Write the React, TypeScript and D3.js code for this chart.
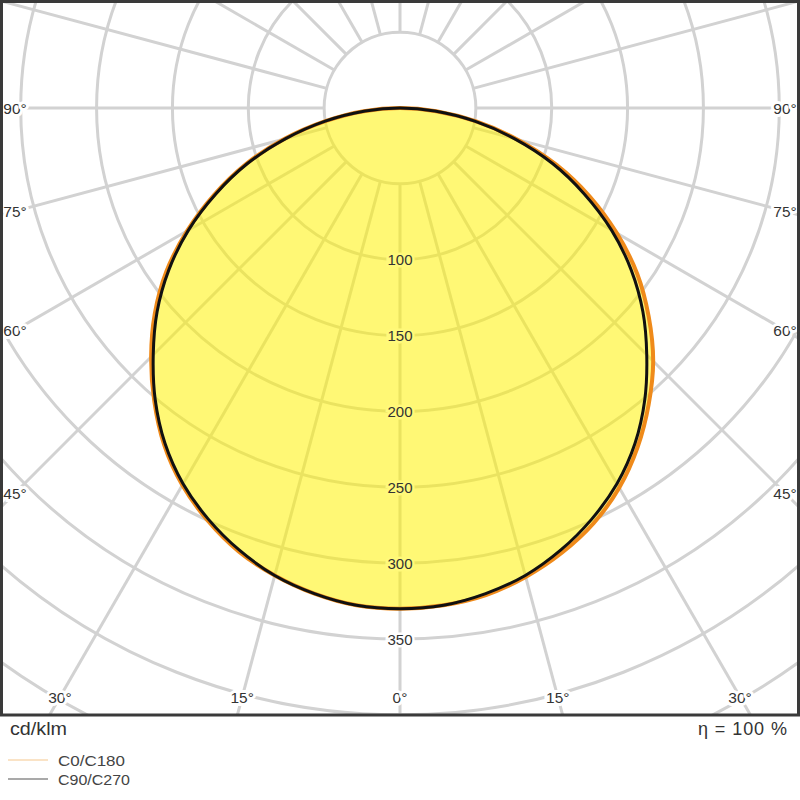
import React from "react";
import * as d3 from "d3";

// Polar angles (degrees from nadir)
const angles = [0, 5, 10, 15, 20, 25, 30, 35, 40, 45, 50, 55, 60, 65, 70, 75, 80, 85, 90];
// Luminous intensity cd/klm
const C0 = [330, 329, 326, 320, 312, 302, 289, 273, 255, 236, 214, 191, 165, 138, 110, 80, 51, 24, 0];
const C180 = [330, 329, 325, 319, 311, 300, 287, 271, 252, 232, 211, 188, 162, 135, 108, 79, 50, 24, 0];
const C90 = [330, 329, 325, 319, 310, 299, 286, 270, 251, 230, 209, 186, 161, 134, 107, 78, 50, 23, 0];
const C270 = [330, 329, 325, 319, 310, 299, 286, 270, 251, 230, 209, 186, 161, 134, 107, 78, 50, 23, 0];

const ringValues = [50, 100, 150, 200, 250, 300, 350, 400, 450, 500];
const ringLabels = [100, 150, 200, 250, 300, 350];
const angleTicks = [0, 15, 30, 45, 60, 75, 90];
const spokeAngles = d3.range(0, 360, 15);
const unitLabel = "cd/klm";
const etaLabel = "η = 100 %";
const legendItems = ["C0/C180", "C90/C270"];

const W = 800;
const BOX_H = 715;
const cx = 400;
const cy = 108;
const FONT = "'Liberation Sans', Arial, sans-serif";

export default function App() {
  const r = d3.scaleLinear().domain([0, 350]).range([0, 531]);
  const rad = (deg: number) => (deg * Math.PI) / 180;

  const buildPts = (right: number[], left: number[]) => {
    const pts: [number, number][] = [];
    for (let i = angles.length - 1; i >= 0; i--) pts.push([Math.PI - rad(angles[i]), r(right[i])]);
    for (let i = 1; i < angles.length - 1; i++) pts.push([Math.PI + rad(angles[i]), r(left[i])]);
    return pts;
  };

  const line = d3
    .lineRadial<[number, number]>()
    .angle((d) => d[0])
    .radius((d) => d[1])
    .curve(d3.curveCatmullRomClosed.alpha(0.5));

  const orangePath = line(buildPts(C0, C180)) || "";
  const blackPath = line(buildPts(C90, C270)) || "";

  const rMin = r(50);
  const rMax = r(650);
  const nadirValue = C90[0];

  return (
    <svg
      width={W}
      height={800}
      style={{ position: "absolute", left: 0, top: 0, background: "#fff" }}
      fontFamily={FONT}
    >
      <defs>
        <clipPath id="box">
          <rect x={0} y={0} width={W} height={BOX_H} />
        </clipPath>
      </defs>
      <rect x={0} y={0} width={W} height={800} fill="#fff" />
      <g clipPath="url(#box)">
        {ringValues.map((v) => (
          <circle key={v} cx={cx} cy={cy} r={r(v)} fill="none" stroke="#d2d2d2" strokeWidth={3} />
        ))}
        {spokeAngles.map((a) => {
          const t = rad(a);
          return (
            <line
              key={a}
              x1={cx + rMin * Math.sin(t)}
              y1={cy + rMin * Math.cos(t)}
              x2={cx + rMax * Math.sin(t)}
              y2={cy + rMax * Math.cos(t)}
              stroke="#d2d2d2"
              strokeWidth={3}
            />
          );
        })}
        <g transform={`translate(${cx},${cy})`}>
          <path d={orangePath} fill="#fff200" fillOpacity={0.54} stroke="none" />
          <path d={orangePath} fill="none" stroke="#ef8a1a" strokeWidth={4} />
          <path d={blackPath} fill="none" stroke="#111" strokeWidth={3} />
        </g>
        {ringLabels.map((v) => (
          <text
            key={v}
            x={cx}
            y={cy + r(v)}
            textAnchor="middle"
            dominantBaseline="central"
            fontSize={15}
            fill="#333"
            stroke={v < nadirValue ? "#fff97a" : "#fff"}
            strokeWidth={5}
            paintOrder="stroke"
          >
            {v}
          </text>
        ))}
        {angleTicks.map((a) => {
          const t = rad(a);
          if (a >= 45) {
            const dy = ((cx - 15) * Math.cos(t)) / Math.sin(t);
            return (
              <g key={a}>
                {[15, W - 15].map((x) => (
                  <text
                    key={x}
                    x={x}
                    y={cy + dy}
                    textAnchor="middle"
                    dominantBaseline="central"
                    fontSize={15.5}
                    fill="#333"
                    stroke="#fff"
                    strokeWidth={6}
                    paintOrder="stroke"
                  >
                    {a}°
                  </text>
                ))}
              </g>
            );
          }
          const yL = 697;
          const dx = (yL - cy) * Math.tan(t);
          const xs = a === 0 ? [cx] : [cx - dx, cx + dx];
          return (
            <g key={a}>
              {xs.map((x, i) => (
                <text
                  key={i}
                  x={x}
                  y={yL}
                  textAnchor="middle"
                  dominantBaseline="central"
                  fontSize={15.5}
                  fill="#333"
                  stroke="#fff"
                  strokeWidth={6}
                  paintOrder="stroke"
                >
                  {a}°
                </text>
              ))}
            </g>
          );
        })}
      </g>
      <rect x={1.5} y={1.5} width={W - 3} height={BOX_H - 1.5} fill="none" stroke="#3a3a3a" strokeWidth={3} />
      <text x={10} y={735} fontSize={18} fill="#333" textLength={57} lengthAdjust="spacingAndGlyphs">
        {unitLabel}
      </text>
      <text x={698} y={735} fontSize={18} fill="#333" textLength={89} lengthAdjust="spacing">
        {etaLabel}
      </text>
      {legendItems.map((name, i) => (
        <g key={name} transform={`translate(0,${760 + i * 19})`}>
          <line x1={8} x2={48} y1={0} y2={0} stroke={i === 0 ? "#f5c88e" : "#555"} strokeWidth={1.2} />
          <text
            x={58}
            y={0}
            dominantBaseline="central"
            fontSize={15}
            fill="#444"
            textLength={i === 0 ? 67 : 72}
            lengthAdjust="spacingAndGlyphs"
          >
            {name}
          </text>
        </g>
      ))}
    </svg>
  );
}
